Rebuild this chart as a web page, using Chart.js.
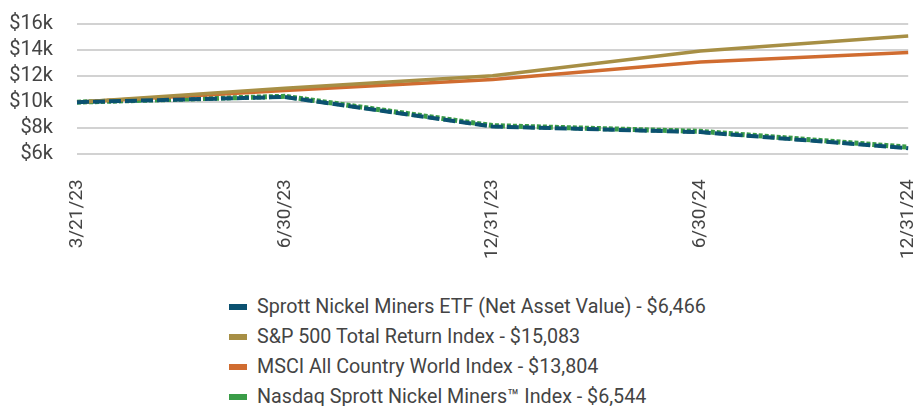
<!DOCTYPE html>
<html>
<head>
<meta charset="utf-8">
<script src="https://cdn.jsdelivr.net/npm/chart.js@4"></script>
<style>
    body { margin: 0; background: #fff; overflow: hidden; width: 913px; height: 406px; position: relative; }
    #wrap { position: absolute; left: 0; top: -12px; width: 956px; height: 296px; }
    #legend { position: absolute; left: 229px; top: 292px; font-family: Roboto, sans-serif; font-size: 19.7px; color: #444; }
    #legend div { height: 30px; line-height: 30px; white-space: nowrap; }
    #legend span.box { display: inline-block; width: 18px; height: 6px; margin-right: 10px; vertical-align: middle; position: relative; top: -1px; }
</style>
</head>
<body>
<div id="wrap"><canvas id="growthChart"></canvas></div>
<div id="legend"></div>
<script>
// Dữ liệu biểu đồ
const dates = ['3/21/23', '6/30/23', '12/31/23', '6/30/24', '12/31/24'];
const etfNav = [10000, 10400, 8130, 7700, 6466];
const sp500 = [10000, 11060, 12030, 13930, 15083];
const msciAcwi = [10000, 10900, 11740, 13080, 13804];
const nickelIndex = [10000, 10450, 8200, 7760, 6544];
const yTicks = [6000, 8000, 10000, 12000, 14000, 16000];

const seriesNames = [
    'Sprott Nickel Miners ETF (Net Asset Value) - $6,466',
    'S&P 500 Total Return Index - $15,083',
    'MSCI All Country World Index - $13,804',
    'Nasdaq Sprott Nickel Miners\u2122 Index - $6,544'
];
const colors = ['#0b5170', '#a78f45', '#d06c30', '#3a9c47'];

const ctx = document.getElementById('growthChart').getContext('2d');
new Chart(ctx, {
    type: 'line',
    data: {
        labels: dates,
        datasets: [
            { label: seriesNames[0], data: etfNav, borderColor: colors[0], borderWidth: 4, borderDash: [12, 4] },
            { label: seriesNames[1], data: sp500, borderColor: colors[1], borderWidth: 3.5 },
            { label: seriesNames[2], data: msciAcwi, borderColor: colors[2], borderWidth: 3.5 },
            { label: seriesNames[3], data: nickelIndex, borderColor: colors[3], borderWidth: 5, borderDash: [4, 2] }
        ]
    },
    options: {
        responsive: true,
        maintainAspectRatio: false,
        animation: false,
        layout: { padding: { top: 0, left: 0, right: 0, bottom: 0 } },
        elements: { point: { radius: 0 }, line: { tension: 0, borderCapStyle: 'butt' } },
        scales: {
            x: {
                grid: { display: false, drawTicks: false },
                border: { display: false },
                ticks: {
                    autoSkip: false,
                    minRotation: 90,
                    maxRotation: 90,
                    padding: 25,
                    color: '#444',
                    font: { family: 'Roboto', size: 19 }
                }
            },
            y: {
                min: 6000,
                max: 16000,
                afterBuildTicks: scale => { scale.ticks = yTicks.map(v => ({ value: v })); },
                afterFit: scale => { scale.width = 77; },
                grid: { color: '#d2d2d2', lineWidth: 2, drawTicks: false },
                border: { display: false },
                ticks: {
                    autoSkip: false,
                    padding: 24,
                    color: '#444',
                    font: { family: 'Roboto', size: 20 },
                    callback: v => '$' + (v / 1000) + 'k'
                }
            }
        },
        plugins: {
            legend: { display: false },
            tooltip: { enabled: false }
        }
    }
});

// Chú thích dạng danh sách dọc
const legendEl = document.getElementById('legend');
seriesNames.forEach((name, i) => {
    const row = document.createElement('div');
    const box = document.createElement('span');
    box.className = 'box';
    box.style.background = colors[i];
    row.appendChild(box);
    row.appendChild(document.createTextNode(name));
    legendEl.appendChild(row);
});
</script>
</body>
</html>
